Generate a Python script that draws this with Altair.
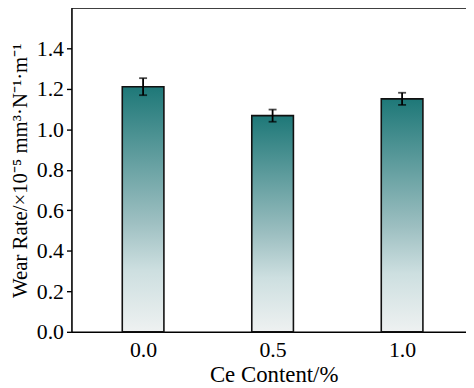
import altair as alt
import pandas as pd

ce_content = [0.0, 0.5, 1.0]
wear_rate = [1.21, 1.067, 1.15]
wear_err = [0.042, 0.03, 0.03]

df = pd.DataFrame({
    "ce": ce_content,
    "rate": wear_rate,
    "lo": [v - e for v, e in zip(wear_rate, wear_err)],
    "hi": [v + e for v, e in zip(wear_rate, wear_err)],
})

FONT = "Liberation Serif"
xscale = alt.Scale(domain=[-0.2575, 1.2276], nice=False, zero=False)
yscale = alt.Scale(domain=[0, 1.6], nice=False)

y_ticks = [round(i * 0.1, 1) for i in range(0, 16)]

grad = alt.Gradient(
    gradient="linear",
    x1=0, y1=1, x2=0, y2=0,
    stops=[
        alt.GradientStop(color="#eef1f1", offset=0),
        alt.GradientStop(color="#cddfe0", offset=0.25),
        alt.GradientStop(color="#9dbfc1", offset=0.45),
        alt.GradientStop(color="#1e7878", offset=1),
    ],
)

base = alt.Chart(df)

bars = base.mark_bar(size=42, color=grad, stroke="#111111", strokeWidth=1.6).encode(
    x=alt.X("ce:Q", scale=xscale,
            axis=alt.Axis(values=ce_content, format=".1f", title="Ce Content/%",
                          ticks=False, grid=False, domainColor="#000000", domainWidth=1.6,
                          labelFont=FONT, labelFontSize=22, labelColor="#000000", labelPadding=8,
                          titleFont=FONT, titleFontSize=23, titleFontWeight="normal",
                          titleColor="#000000", titlePadding=3, titleX=204)),
    y=alt.Y("rate:Q", scale=yscale,
            axis=alt.Axis(values=y_ticks,
                          labelExpr="round(datum.value*10)%2==0 ? format(datum.value,'.1f') : ''",
                          title="Wear Rate/×10⁻⁵ mm³·N⁻¹·m⁻¹",
                          grid=False, tickSize=5, tickWidth=1.4, tickColor="#000000",
                          domainColor="#000000", domainWidth=1.6,
                          labelFont=FONT, labelFontSize=22, labelColor="#000000", labelPadding=3,
                          titleFont=FONT, titleFontSize=21, titleFontWeight="normal",
                          titleColor="#000000", titlePadding=6, titleY=164)),
)

err = base.mark_rule(color="#000000", strokeWidth=1.8).encode(
    x="ce:Q", y="lo:Q", y2="hi:Q"
)
caps_hi = base.mark_tick(color="#000000", size=8, thickness=1.8, orient="horizontal").encode(
    x="ce:Q", y="hi:Q"
)
caps_lo = base.mark_tick(color="#000000", size=8, thickness=1.8, orient="horizontal").encode(
    x="ce:Q", y="lo:Q"
)

top = alt.Chart(pd.DataFrame({"t": [1.6]})).mark_rule(color="#000000", strokeWidth=2).encode(
    y=alt.Y("t:Q", scale=yscale)
)

chart = alt.layer(bars, err, caps_hi, caps_lo, top).properties(
    width=398, height=327,
    autosize=alt.AutoSizeParams(type="none"),
    padding={"left": 64, "top": -2, "right": 0, "bottom": 55},
).configure_view(stroke=None)

chart.save("out.html", embed_options={"renderer": "svg", "actions": False})
